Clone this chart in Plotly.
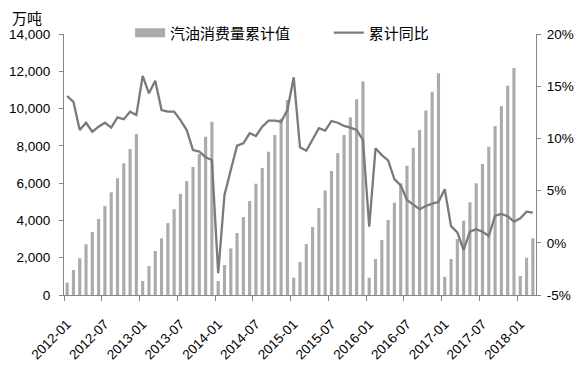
import plotly.graph_objects as go

# Categories: monthly, 2012-01 .. 2018-03
months = [f"{y}-{m:02d}" for y in range(2012, 2019) for m in range(1, 13)][:75]

# 汽油消费量累计值 (万吨)
cum_2012 = [660, 1340, 1970, 2720, 3380, 4080, 4770, 5510, 6260, 7060, 7830, 8640]
cum_2013 = [750, 1550, 2360, 3040, 3860, 4600, 5420, 6110, 6870, 7560, 8490, 9290]
cum_2014 = [750, 1610, 2500, 3330, 4180, 5040, 5970, 6820, 7690, 8580, 9450, 10460]
cum_2015 = [930, 1770, 2730, 3650, 4660, 5610, 6650, 7610, 8580, 9530, 10500, 11460]
cum_2016 = [930, 1930, 2950, 4020, 4950, 5990, 6930, 7900, 8850, 9890, 10900, 11890]
cum_2017 = [980, 1930, 3000, 3990, 4970, 5990, 7030, 7950, 9060, 10130, 11230, 12170]
cum_2018 = [1020, 2000, 3040]
cum_values = cum_2012 + cum_2013 + cum_2014 + cum_2015 + cum_2016 + cum_2017 + cum_2018

# 累计同比 (%)
yoy_2012 = [14.06, 13.5, 10.8, 11.5, 10.64, 11.12, 11.5, 11.03, 12.02, 11.83, 12.56, 12.24]
yoy_2013 = [15.98, 14.32, 15.53, 12.72, 12.56, 12.56, 11.76, 10.8, 8.89, 8.73, 8.19, 7.93]
yoy_2014 = [-2.92, 4.58, 6.97, 9.3, 9.53, 10.49, 10.23, 11.12, 11.7, 11.7, 11.6, 12.72]
yoy_2015 = [15.85, 9.15, 8.82, 9.85, 10.97, 10.74, 11.67, 11.5, 11.19, 11.03, 10.8, 9.85]
yoy_2016 = [1.54, 9.05, 8.4, 7.9, 6.1, 5.5, 4.1, 3.65, 3.22, 3.52, 3.75, 3.9]
yoy_2017 = [5.13, 1.6, 1.0, -0.69, 1.06, 1.3, 1.06, 0.65, 2.6, 2.76, 2.55, 2.02]
yoy_2018 = [2.35, 2.98, 2.88]
yoy_values = yoy_2012 + yoy_2013 + yoy_2014 + yoy_2015 + yoy_2016 + yoy_2017 + yoy_2018

left_ticks = [0, 2000, 4000, 6000, 8000, 10000, 12000, 14000]
right_ticks = [-5, 0, 5, 10, 15, 20]
right_labels = ["-5%", "0%", "5%", "10%", "15%", "20%"]

bar_name = "汽油消费量累计值"
line_name = "累计同比"
unit_label = "万吨"

BAR_COLOR = "#ABABAB"
LINE_COLOR = "#7A7A7A"
AXIS_COLOR = "#868686"
TICK_FONT = dict(family="Liberation Sans, Arial, sans-serif", size=13.5, color="#000000")
CJK_FONT = dict(family="Noto Sans CJK SC, sans-serif", size=15, color="#000000")

fig = go.Figure()
fig.add_trace(go.Bar(
    x=months, y=cum_values, name=bar_name, marker=dict(color=BAR_COLOR, line=dict(width=0)),
    showlegend=False, yaxis="y",
))
fig.add_trace(go.Scatter(
    x=months, y=yoy_values, name=line_name, mode="lines",
    line=dict(color=LINE_COLOR, width=2.3), yaxis="y2", showlegend=True, legend="legend2",
))
# legend swatch for the bar series
fig.add_trace(go.Scatter(
    x=[None], y=[None], name=bar_name, mode="lines",
    line=dict(color=BAR_COLOR, width=9), showlegend=True, legend="legend",
))

# The page body adds an 8px offset, so the figure is sized to fit the window.
fig.update_layout(
    width=576, height=362,
    margin=dict(l=56, r=48, t=26, b=75, autoexpand=False),
    paper_bgcolor="white", plot_bgcolor="white",
    bargap=0.5,
    xaxis=dict(
        type="category", tickmode="linear", tick0=0, dtick=6,
        tickson="boundaries", ticks="outside", ticklen=5, tickcolor=AXIS_COLOR,
        tickangle=-45, tickfont=TICK_FONT, showline=True, linecolor=AXIS_COLOR,
        linewidth=1, showgrid=False, range=[-0.5, 74.5], ticklabelstandoff=15,
        automargin=False,
    ),
    yaxis=dict(
        range=[0, 14000], tickvals=left_ticks, tickformat=",d", tickfont=TICK_FONT,
        showline=True, linecolor=AXIS_COLOR, ticks="outside", ticklen=4,
        tickcolor=AXIS_COLOR, showgrid=False, zeroline=False, ticklabelstandoff=6,
        automargin=False,
    ),
    yaxis2=dict(
        range=[-5, 20], tickvals=right_ticks, ticktext=right_labels, tickfont=TICK_FONT,
        overlaying="y", side="right", showline=True, linecolor=AXIS_COLOR,
        ticks="outside", ticklen=4, tickcolor=AXIS_COLOR, showgrid=False, zeroline=False,
        ticklabelstandoff=3, automargin=False,
    ),
    legend=dict(
        orientation="h", x=0.14, y=1.004, xanchor="left", yanchor="middle",
        font=CJK_FONT, bgcolor="rgba(0,0,0,0)", itemwidth=30,
    ),
    legend2=dict(
        orientation="h", x=0.561, y=1.004, xanchor="left", yanchor="middle",
        font=CJK_FONT, bgcolor="rgba(0,0,0,0)", itemwidth=30,
    ),
    annotations=[dict(
        text=unit_label, xref="paper", yref="paper", x=-0.115, y=1.062,
        xanchor="left", yanchor="middle", showarrow=False, font=CJK_FONT,
    )],
)

fig.write_html("out.html")
